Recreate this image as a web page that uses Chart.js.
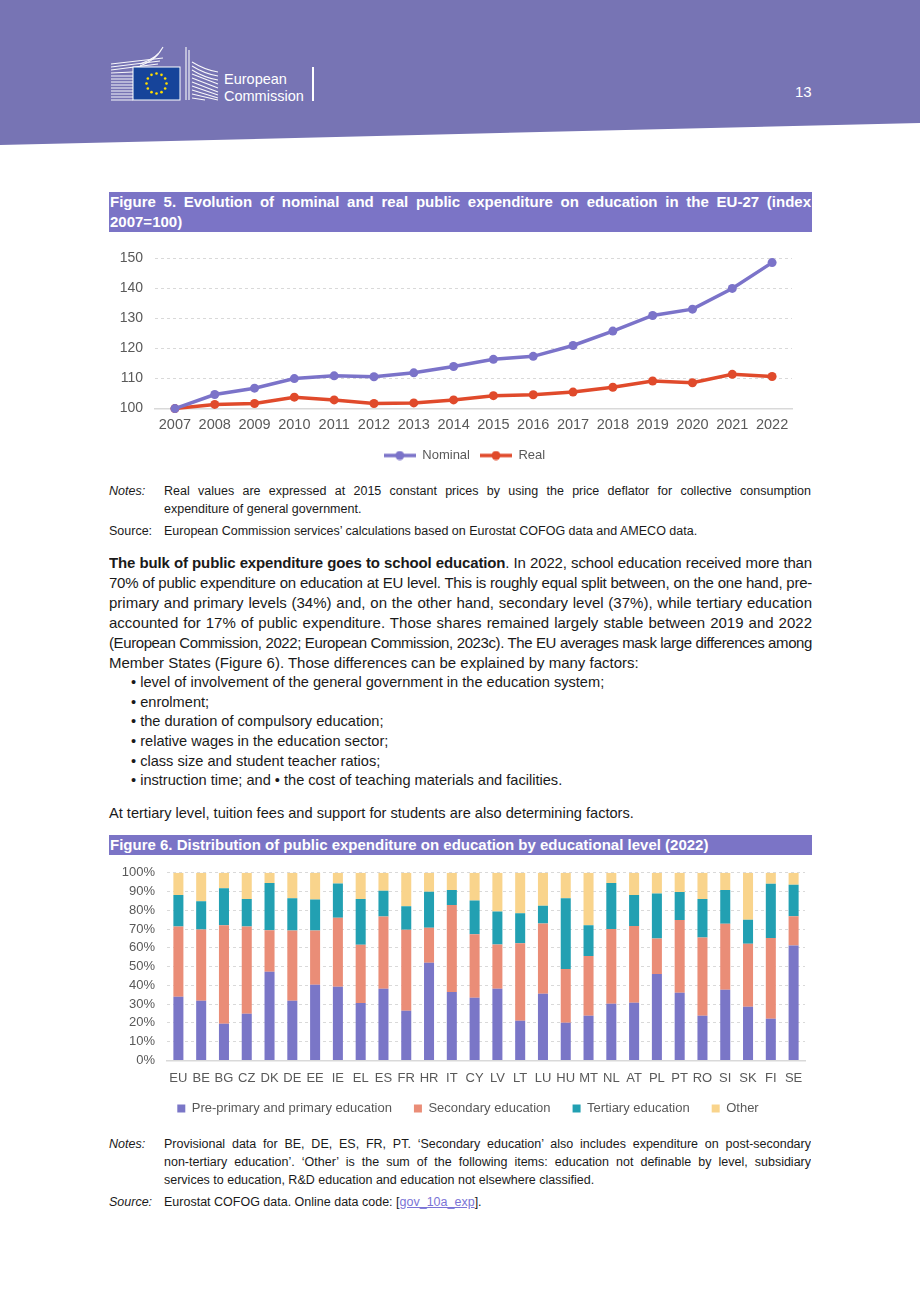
<!DOCTYPE html>
<html>
<head>
<meta charset="utf-8">
<script src="https://cdn.jsdelivr.net/npm/chart.js@4/dist/chart.umd.min.js"></script>
<style>
  html,body{margin:0;padding:0;background:#fff;}
  body{width:920px;height:1302px;position:relative;overflow:hidden;font-family:"Liberation Sans",Arial,sans-serif;color:#1a1a1a;}
  .abs{position:absolute;}
  .ln{position:absolute;white-space:nowrap;line-height:20px;height:20px;}
  .j{text-align:justify;text-align-last:justify;white-space:normal;overflow:hidden;}
  .body{font-size:15px;left:109px;width:703px;}
  .note{font-size:12.5px;line-height:18px;height:18px;}
  .bar{position:absolute;left:109px;width:703px;background:#7b74c6;color:#fff;font-weight:bold;font-size:15px;}
  .bar div{height:20px;line-height:20px;padding:0 1px;box-sizing:border-box;}
  .bul{font-size:14.6px;}
  a{color:#7b74d6;text-decoration:underline;}
</style>
</head>
<body>
<svg class="abs" style="left:0;top:0" width="920" height="150">
  <polygon points="0,0 920,0 920,123 0,145" fill="#7774b4"/>
  <g stroke="#fff" stroke-width="1.1" fill="none" opacity="0.95">
    <path d="M111 64 L163 58 M111 67 L160 61 M111 70 L158 64"/>
    <path d="M111 73 L133 72 M111 76 L133 76 M111 79 L133 79 M111 82 L133 82 M111 85 L133 85 M111 88 L133 88 M111 91 L133 91 M111 94 L133 94 M111 97 L133 97 M111 100 L133 100"/>
    <path d="M163 47 Q158 58 140 64 M161 50 Q156 60 140 66"/>
    <path d="M186 47 L186 100 M189 50 L189 100"/>
    <path d="M192 62 Q205 70 218 72 M192 66 Q205 74 218 76 M192 70 Q205 78 218 80 M192 74 L218 84 M192 78 L218 88 M192 82 L218 92 M192 86 L218 95 M192 90 L218 98 M192 94 L218 100 M192 98 L205 100"/>
  </g>
  <rect x="133" y="67" width="47" height="33" fill="#16449a" stroke="#fff" stroke-width="1"/>
  <g fill="#ffdd00" id="stars"></g>
  <text x="224" y="84" fill="#fff" font-size="14.5" font-family="Liberation Sans">European</text>
  <text x="224" y="101" fill="#fff" font-size="14.5" font-family="Liberation Sans">Commission</text>
  <rect x="312" y="67" width="2" height="34" fill="#fff"/>
  <text x="795" y="97" fill="#fff" font-size="15" font-family="Liberation Sans">13</text>
</svg>

<div class="bar" style="top:192px;height:40px;">
  <div class="j">Figure 5. Evolution of nominal and real public expenditure on education in the EU-27 (index</div>
  <div>2007=100)</div>
</div>

<div class="abs" style="left:109px;top:238px;width:703px;height:229px;"><canvas id="fig5"></canvas></div>

<div class="ln note" style="left:109px;top:482px;font-style:italic;">Notes:</div>
<div class="ln note j" style="left:164px;width:647px;top:482px;">Real values are expressed at 2015 constant prices by using the price deflator for collective consumption</div>
<div class="ln note" style="left:164px;top:500px;">expenditure of general government.</div>
<div class="ln note" style="left:109px;top:522px;">Source:</div>
<div class="ln note" style="left:164px;top:522px;">European Commission services’ calculations based on Eurostat COFOG data and AMECO data.</div>

<div class="ln body j" style="top:553px;"><b>The bulk of public expenditure goes to school education</b>. In 2022, school education received more than</div>
<div class="ln body j" style="top:573px;">70% of public expenditure on education at EU level. This is roughly equal split between, on the one hand, pre-</div>
<div class="ln body j" style="top:593px;">primary and primary levels (34%) and, on the other hand, secondary level (37%), while tertiary education</div>
<div class="ln body j" style="top:613px;">accounted for 17% of public expenditure. Those shares remained largely stable between 2019 and 2022</div>
<div class="ln body j" style="top:633px;">(European Commission, 2022; European Commission, 2023c). The EU averages mask large differences among</div>
<div class="ln body" style="top:653px;">Member States (Figure 6). Those differences can be explained by many factors:</div>
<div class="ln bul" style="left:131px;top:672px;">• level of involvement of the general government in the education system;</div>
<div class="ln bul" style="left:131px;top:692px;">• enrolment;</div>
<div class="ln bul" style="left:131px;top:711px;">• the duration of compulsory education;</div>
<div class="ln bul" style="left:131px;top:731px;">• relative wages in the education sector;</div>
<div class="ln bul" style="left:131px;top:751px;">• class size and student teacher ratios;</div>
<div class="ln bul" style="left:131px;top:770px;">• instruction time; and • the cost of teaching materials and facilities.</div>
<div class="ln bul" style="left:109px;top:803px;">At tertiary level, tuition fees and support for students are also determining factors.</div>

<div class="bar" style="top:835px;height:20px;"><div>Figure 6. Distribution of public expenditure on education by educational level (2022)</div></div>

<div class="abs" style="left:109px;top:853px;width:703px;height:280px;"><canvas id="fig6"></canvas></div>

<div class="ln note" style="left:109px;top:1135px;font-style:italic;">Notes:</div>
<div class="ln note j" style="left:164px;width:647px;top:1135px;">Provisional data for BE, DE, ES, FR, PT. ‘Secondary education’ also includes expenditure on post-secondary</div>
<div class="ln note j" style="left:164px;width:647px;top:1153px;">non-tertiary education’. ‘Other’ is the sum of the following items: education not definable by level, subsidiary</div>
<div class="ln note" style="left:164px;top:1171px;">services to education, R&amp;D education and education not elsewhere classified.</div>
<div class="ln note" style="left:109px;top:1193px;font-style:italic;">Source:</div>
<div class="ln note" style="left:164px;top:1193px;">Eurostat COFOG data. Online data code: [<a>gov_10a_exp</a>].</div>

<script>
// justified lines must stay on one line
document.querySelectorAll('.j').forEach(el => {
  let ls = 0;
  while (el.scrollHeight > el.clientHeight + 1 && ls > -1) { ls -= 0.05; el.style.letterSpacing = ls + 'px'; }
});

// EU flag stars
(function(){
  const g = document.getElementById('stars');
  for(let i=0;i<12;i++){
    const a = i*Math.PI/6;
    const c = document.createElementNS('http://www.w3.org/2000/svg','circle');
    c.setAttribute('cx', 156.5 + 10*Math.cos(a));
    c.setAttribute('cy', 83.5 + 10*Math.sin(a));
    c.setAttribute('r', 1.3);
    g.appendChild(c);
  }
})();

// Figure 5 data (index 2007=100)
const years = ['2007','2008','2009','2010','2011','2012','2013','2014','2015','2016','2017','2018','2019','2020','2021','2022'];
const nominal = [100, 104.7, 106.8, 110.0, 110.9, 110.6, 111.9, 114.0, 116.4, 117.4, 121.0, 125.8, 131.0, 133.1, 140.0, 148.6];
const real = [100, 101.4, 101.7, 103.8, 102.9, 101.7, 101.9, 102.9, 104.3, 104.6, 105.5, 107.1, 109.2, 108.6, 111.4, 110.7];

// Figure 6 data (% of public expenditure on education, 2022)
const countries = ['EU','BE','BG','CZ','DK','DE','EE','IE','EL','ES','FR','HR','IT','CY','LV','LT','LU','HU','MT','NL','AT','PL','PT','RO','SI','SK','FI','SE'];
const primaryEdu = [33.9,31.8,19.5,24.9,47.2,31.8,40.3,39.3,30.6,38.2,26.5,52.0,36.4,33.4,38.2,21.1,35.5,20.1,23.8,30.2,30.7,46.0,36.1,23.8,37.7,28.6,22.2,61.3];
const secondaryEdu = [37.5,38.0,52.6,46.5,22.2,37.5,29.0,36.7,31.0,38.5,43.1,18.7,46.4,33.9,23.6,41.4,37.5,28.6,31.8,39.8,40.9,19.0,38.7,41.7,35.1,33.6,43.0,15.6];
const tertiaryEdu = [16.7,15.1,19.6,14.7,25.1,17.2,16.5,18.3,24.4,13.7,12.6,19.2,8.0,18.0,17.6,16.0,9.4,37.8,16.5,24.5,16.5,24.0,14.9,20.6,18.0,12.8,28.9,16.7];
const otherEdu = [11.9,15.1,8.3,13.9,5.5,13.5,14.2,5.7,14.0,9.6,17.8,10.1,9.2,14.7,20.6,21.5,17.6,13.5,27.9,5.5,11.9,11.0,10.3,13.9,9.2,25.0,5.9,6.4];

const FONT = '"Liberation Sans", Arial, sans-serif';
const GREY = '#595959';
Chart.defaults.font.family = FONT;
Chart.defaults.color = GREY;
Chart.defaults.animation = false;

// nudge the legend box after layout (the reference legend sits a bit off the default spot)
const legendShift = {
  id: 'legendShift',
  afterLayout(chart, args, opts){
    const l = chart.legend; if(!l) return;
    const dx = opts.dx || 0, dy = opts.dy || 0;
    l.left += dx; l.right += dx; l.top += dy; l.bottom += dy;
  }
};

function lineMarker(color){
  const c = document.createElement('canvas');
  c.width = 32; c.height = 10;
  const x = c.getContext('2d');
  x.strokeStyle = color; x.lineWidth = 3.5;
  x.beginPath(); x.moveTo(0,5); x.lineTo(32,5); x.stroke();
  x.fillStyle = color;
  x.beginPath(); x.arc(16,5,4.5,0,Math.PI*2); x.fill();
  return c;
}

const NOM_C = '#7b73c9', REAL_C = '#e04a2b';
new Chart(document.getElementById('fig5'), {
  type: 'line',
  plugins: [legendShift],
  data: {
    labels: years,
    datasets: [
      {label:'Nominal', data:nominal, borderColor:NOM_C, backgroundColor:NOM_C, borderWidth:3.5, pointRadius:4.5, pointBackgroundColor:NOM_C, pointBorderWidth:0, clip:false},
      {label:'Real', data:real, borderColor:REAL_C, backgroundColor:REAL_C, borderWidth:3.5, pointRadius:4.5, pointBackgroundColor:REAL_C, pointBorderWidth:0, clip:false}
    ]
  },
  options: {
    responsive: true, maintainAspectRatio: false,
    layout: {padding: {top: 5, right: 20, left: 0, bottom: 0}},
    plugins: {
      legendShift: {dx: 14, dy: 5},
      legend: {
        position: 'bottom',
        labels: {
          usePointStyle: true, pointStyleWidth: 32, padding: 10,
          font: {size: 13}, color: GREY,
          generateLabels: (chart) => chart.data.datasets.map((d,i) => ({
            text: d.label, pointStyle: lineMarker(d.borderColor), fillStyle: d.borderColor,
            strokeStyle: d.borderColor, lineWidth: 0, datasetIndex: i, fontColor: GREY
          }))
        }
      },
      tooltip: {enabled: false}
    },
    scales: {
      x: {
        offset: true,
        grid: {display: false},
        border: {display: true, color: '#d9d9d9', width: 1.5},
        ticks: {font: {size: 14.5}, color: GREY, padding: 0, maxRotation: 0, autoSkip: false}
      },
      y: {
        min: 100, max: 150,
        afterFit: (s) => { s.width = 46; },
        grid: {color: '#d9d9d9', drawTicks: false},
        border: {display: false, dash: [3, 3]},
        ticks: {stepSize: 10, font: {size: 14}, color: GREY, padding: 12, autoSkip: false}
      }
    }
  }
});

const C_PRI = '#7a76c7', C_SEC = '#ea8d77', C_TER = '#22a0b2', C_OTH = '#f9d48c';
function barSet(label, data, color){
  return {label, data, backgroundColor: color, borderWidth: 0, barPercentage: 0.44, categoryPercentage: 1.0};
}
new Chart(document.getElementById('fig6'), {
  type: 'bar',
  plugins: [legendShift],
  data: {
    labels: countries,
    datasets: [
      barSet('Pre-primary and primary education', primaryEdu, C_PRI),
      barSet('Secondary education', secondaryEdu, C_SEC),
      barSet('Tertiary education', tertiaryEdu, C_TER),
      barSet('Other', otherEdu, C_OTH)
    ]
  },
  options: {
    responsive: true, maintainAspectRatio: false,
    layout: {padding: {top: 0, right: 7, left: 0, bottom: 0}},
    plugins: {
      legendShift: {dx: 11, dy: -8},
      legend: {
        position: 'bottom',
        labels: {boxWidth: 8, boxHeight: 8, padding: 22, font: {size: 13}, color: GREY}
      },
      tooltip: {enabled: false}
    },
    scales: {
      x: {
        stacked: true,
        grid: {display: false},
        border: {display: true, color: '#d9d9d9', width: 1.5},
        ticks: {font: {size: 13}, color: GREY, padding: 2, maxRotation: 0, autoSkip: false}
      },
      y: {
        stacked: true, min: 0, max: 100,
        afterFit: (s) => { s.width = 58; },
        grid: {color: '#d9d9d9', drawTicks: false},
        border: {display: false, dash: [3, 3]},
        ticks: {stepSize: 10, font: {size: 13}, color: GREY, padding: 12, autoSkip: false, callback: (v) => v + '%'}
      }
    }
  }
});
</script>
</body>
</html>
